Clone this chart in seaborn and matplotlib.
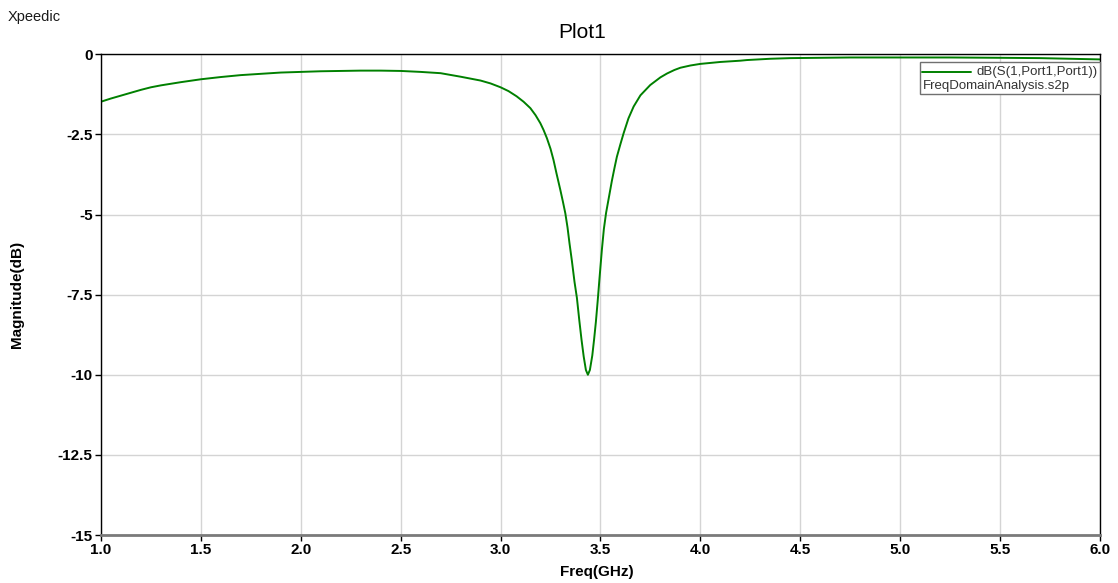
import matplotlib
matplotlib.use("Agg")
import matplotlib.pyplot as plt
import seaborn as sns
import pandas as pd
from matplotlib.lines import Line2D
from matplotlib.offsetbox import AnchoredOffsetbox, VPacker, HPacker, TextArea, DrawingArea

# -------------------------------------------------------------------
# Data (S11 magnitude in dB)
# -------------------------------------------------------------------

freq_ghz = [
    1.0, 1.05, 1.1, 1.15, 1.2, 1.25, 1.3, 1.35, 1.4, 1.5, 1.6, 1.7, 1.8, 1.9,
    2.0, 2.1, 2.2, 2.3, 2.4, 2.5, 2.6, 2.7, 2.8, 2.9, 2.95, 3.0, 3.04, 3.08,
    3.115, 3.149, 3.175, 3.199, 3.215, 3.232, 3.25, 3.265, 3.28, 3.299, 3.312,
    3.324, 3.335, 3.345, 3.357, 3.37, 3.382, 3.394, 3.405, 3.416, 3.427, 3.437,
    3.447, 3.459, 3.468, 3.477, 3.486, 3.495, 3.507, 3.517, 3.528, 3.544, 3.557,
    3.57, 3.582, 3.6, 3.616, 3.64, 3.666, 3.7, 3.749, 3.8, 3.833, 3.87, 3.9,
    3.95, 4.0, 4.05, 4.1, 4.2, 4.233, 4.35, 4.45, 4.6, 4.75, 5.0, 5.25, 5.5,
    5.7, 5.85, 6.0,
]
s11_db = [
    -1.48, -1.38, -1.29, -1.20, -1.11, -1.03, -0.97, -0.92, -0.87, -0.78, -0.71, -0.65, -0.61, -0.57,
    -0.55, -0.53, -0.52, -0.51, -0.51, -0.52, -0.55, -0.59, -0.70, -0.82, -0.91, -1.03, -1.15, -1.31,
    -1.48, -1.68, -1.90, -2.15, -2.36, -2.62, -2.95, -3.30, -3.72, -4.23, -4.60,
    -4.96, -5.40, -5.90, -6.45, -7.10, -7.60, -8.30, -8.90, -9.43, -9.85, -10.0,
    -9.85, -9.40, -8.90, -8.35, -7.70, -7.00, -6.10, -5.45, -4.95, -4.40, -3.95,
    -3.55, -3.20, -2.80, -2.46, -2.00, -1.63, -1.28, -0.96, -0.72, -0.60, -0.49, -0.42,
    -0.35, -0.30, -0.27, -0.24, -0.20, -0.18, -0.14, -0.12, -0.11, -0.10, -0.10, -0.10, -0.11,
    -0.12, -0.14, -0.16,
]

x_ticks = [1.0, 1.5, 2.0, 2.5, 3.0, 3.5, 4.0, 4.5, 5.0, 5.5, 6.0]
x_tick_labels = ["1.0", "1.5", "2.0", "2.5", "3.0", "3.5", "4.0", "4.5", "5.0", "5.5", "6.0"]
y_ticks = [0, -2.5, -5, -7.5, -10, -12.5, -15]
y_tick_labels = ["0", "-2.5", "-5", "-7.5", "-10", "-12.5", "-15"]

trace_label = "dB(S(1,Port1,Port1))"
file_label = "FreqDomainAnalysis.s2p"

# -------------------------------------------------------------------
# Style
# -------------------------------------------------------------------

sns.set_theme(style="whitegrid")
plt.rcParams["font.family"] = ["Liberation Sans", "DejaVu Sans"]
plt.rcParams["text.color"] = "black"
plt.rcParams["grid.color"] = "#d4d4d4"
plt.rcParams["grid.linewidth"] = 1.0

df = pd.DataFrame({"freq": freq_ghz, "mag": s11_db})

fig = plt.figure(figsize=(11.18, 5.83), dpi=100)
ax = fig.add_axes([0.0903, 0.0823, 0.8936, 0.8246])

sns.lineplot(data=df, x="freq", y="mag", color="#008000", linewidth=1.4, ax=ax)

ax.set_xlim(1.0, 6.0)
ax.set_ylim(-15, 0)
ax.set_xticks(x_ticks)
ax.set_xticklabels(x_tick_labels, fontweight="bold", fontsize=11)
ax.set_yticks(y_ticks)
ax.set_yticklabels(y_tick_labels, fontweight="bold", fontsize=11)
ax.tick_params(axis="both", which="major", direction="out", length=4,
               width=1, color="black", pad=2, labelcolor="black",
               bottom=True, left=True)
ax.grid(True, color="#d4d4d4", linewidth=1.0)

for side in ["top", "left", "right"]:
    ax.spines[side].set_color("black")
    ax.spines[side].set_linewidth(1.0)
ax.spines["bottom"].set_color("#7a7a7a")
ax.spines["bottom"].set_linewidth(2.0)

ax.set_xlabel("Freq(GHz)", fontweight="bold", fontsize=11, color="black")
ax.set_ylabel("Magnitude(dB)", fontweight="bold", fontsize=11, color="black")
ax.xaxis.set_label_coords(0.496, -0.063)
ax.yaxis.set_label_coords(-0.077, 0.5)

fig.text(582 / 1118, 1 - 33 / 583, "Plot1", ha="center", va="center", fontsize=15, color="black")
fig.text(8 / 1118, 1 - 17 / 583, "Xpeedic", ha="left", va="center", fontsize=10.5, color="#1a1a1a")

# legend box: trace sample + name on the first row, file name below
sample = DrawingArea(35, 10, 0, 0)
sample.add_artist(Line2D([0, 35], [5, 5], color="#008000", linewidth=1.4))
text_props = dict(fontsize=9.5, color="#333333", family=["Liberation Sans", "DejaVu Sans"])
row1 = HPacker(children=[sample, TextArea(trace_label, textprops=text_props)],
               align="center", pad=0, sep=4)
row2 = TextArea(file_label, textprops=text_props)
box = VPacker(children=[row1, row2], align="left", pad=0, sep=1)
legend_box = AnchoredOffsetbox(loc="upper right", child=box, pad=0.15, borderpad=0,
                               frameon=True, bbox_to_anchor=(1.0, 0.983),
                               bbox_transform=ax.transAxes)
legend_box.patch.set_boxstyle("square,pad=0")
legend_box.patch.set_edgecolor("#707070")
legend_box.patch.set_linewidth(1.0)
ax.add_artist(legend_box)

fig.savefig("out.png", dpi=100)
plt.close(fig)
